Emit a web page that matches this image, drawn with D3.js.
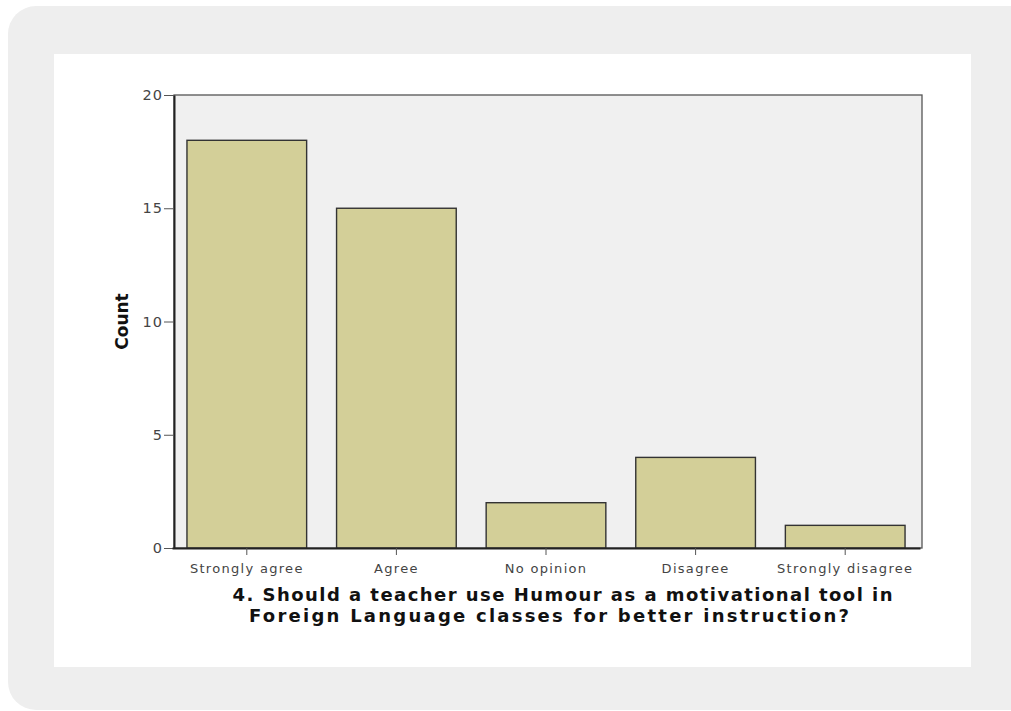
<!DOCTYPE html>
<html><head><meta charset="utf-8">
<script src="https://cdn.jsdelivr.net/npm/d3@7"></script>
<style>
html,body{margin:0;padding:0;background:#fff;}
svg{display:block;}
</style></head>
<body>
<script>
const categories = ["Strongly agree","Agree","No opinion","Disagree","Strongly disagree"];
const counts = [18, 15, 2, 4, 1];
const yTicks = [0, 5, 10, 15, 20];
const titleLines = ["4. Should a teacher use Humour as a motivational tool in","Foreign Language classes for better instruction?"];
const yLabel = "Count";

const W = 1011, H = 711;
const svg = d3.select("body").append("svg").attr("width", W).attr("height", H);

// outer grey rounded card
svg.append("rect").attr("x", 8).attr("y", 6).attr("width", 1040).attr("height", 704)
  .attr("rx", 28).attr("fill", "#eeeeee");
// white panel
svg.append("rect").attr("x", 54).attr("y", 54).attr("width", 917).attr("height", 613).attr("fill", "#ffffff");

const L = 174, R = 922, T = 95, B = 548;
const x = d3.scaleBand().domain(categories).range([L, R]).paddingInner(0.2).paddingOuter(0.1);
const y = d3.scaleLinear().domain([0, 20]).range([B, T]);

// plot background
svg.append("rect").attr("x", L).attr("y", T).attr("width", R - L).attr("height", B - T)
  .attr("fill", "#f0f0f0").attr("stroke", "#555").attr("stroke-width", 1.3);

// bars
svg.selectAll("rect.bar").data(counts).enter().append("rect")
  .attr("class", "bar")
  .attr("x", (d, i) => x(categories[i]) - 2)
  .attr("y", d => y(d))
  .attr("width", x.bandwidth())
  .attr("height", d => B - y(d))
  .attr("fill", "#d3cf98")
  .attr("stroke", "#333")
  .attr("stroke-width", 1.4);

const tickFont = "DejaVu Sans, Verdana, sans-serif";

// y axis
const yAxis = d3.axisLeft(y).tickValues(yTicks).tickSize(10).tickSizeOuter(0).tickPadding(1);
const gy = svg.append("g").attr("transform", `translate(${L},0)`).call(yAxis);
gy.select(".domain").attr("stroke", "#222").attr("stroke-width", 2);
gy.selectAll(".tick line").attr("stroke", "#555");
gy.selectAll(".tick text").attr("font-family", tickFont)
  .attr("font-size", 14.5).attr("letter-spacing", 1).attr("fill", "#444");

// x axis
const xAxis = d3.axisBottom(x).tickSize(7).tickSizeOuter(0).tickPadding(9);
const gx = svg.append("g").attr("transform", `translate(-2,${B})`).call(xAxis);
gx.select(".domain").attr("stroke", "#222").attr("stroke-width", 2);
gx.selectAll(".tick line").attr("stroke", "#555");
gx.selectAll(".tick text").attr("font-family", tickFont)
  .attr("font-size", 13).attr("letter-spacing", 1.3).attr("fill", "#444");

// y label
svg.append("text").attr("transform", `translate(128,${(T + B) / 2}) rotate(-90)`)
  .attr("text-anchor", "middle")
  .attr("font-family", "DejaVu Sans, Verdana, sans-serif")
  .attr("font-weight", "bold").attr("font-size", 17).attr("fill", "#111")
  .text(yLabel);

// title (two lines, each fitted to its width in the reference)
const titleCenters = [562.5, 549];
const titleWidths = [660, 600];
svg.append("text").attr("text-anchor", "middle")
  .attr("font-family", "DejaVu Sans, Verdana, sans-serif")
  .attr("font-weight", "bold").attr("font-size", 18).attr("fill", "#111")
  .selectAll("tspan").data(titleLines).enter().append("tspan")
  .attr("x", (d, i) => titleCenters[i] - titleWidths[i] / 2)
  .attr("text-anchor", "start")
  .attr("textLength", (d, i) => titleWidths[i])
  .attr("lengthAdjust", "spacing")
  .attr("y", (d, i) => 601 + i * 21)
  .text(d => d);
</script>
</body></html>
